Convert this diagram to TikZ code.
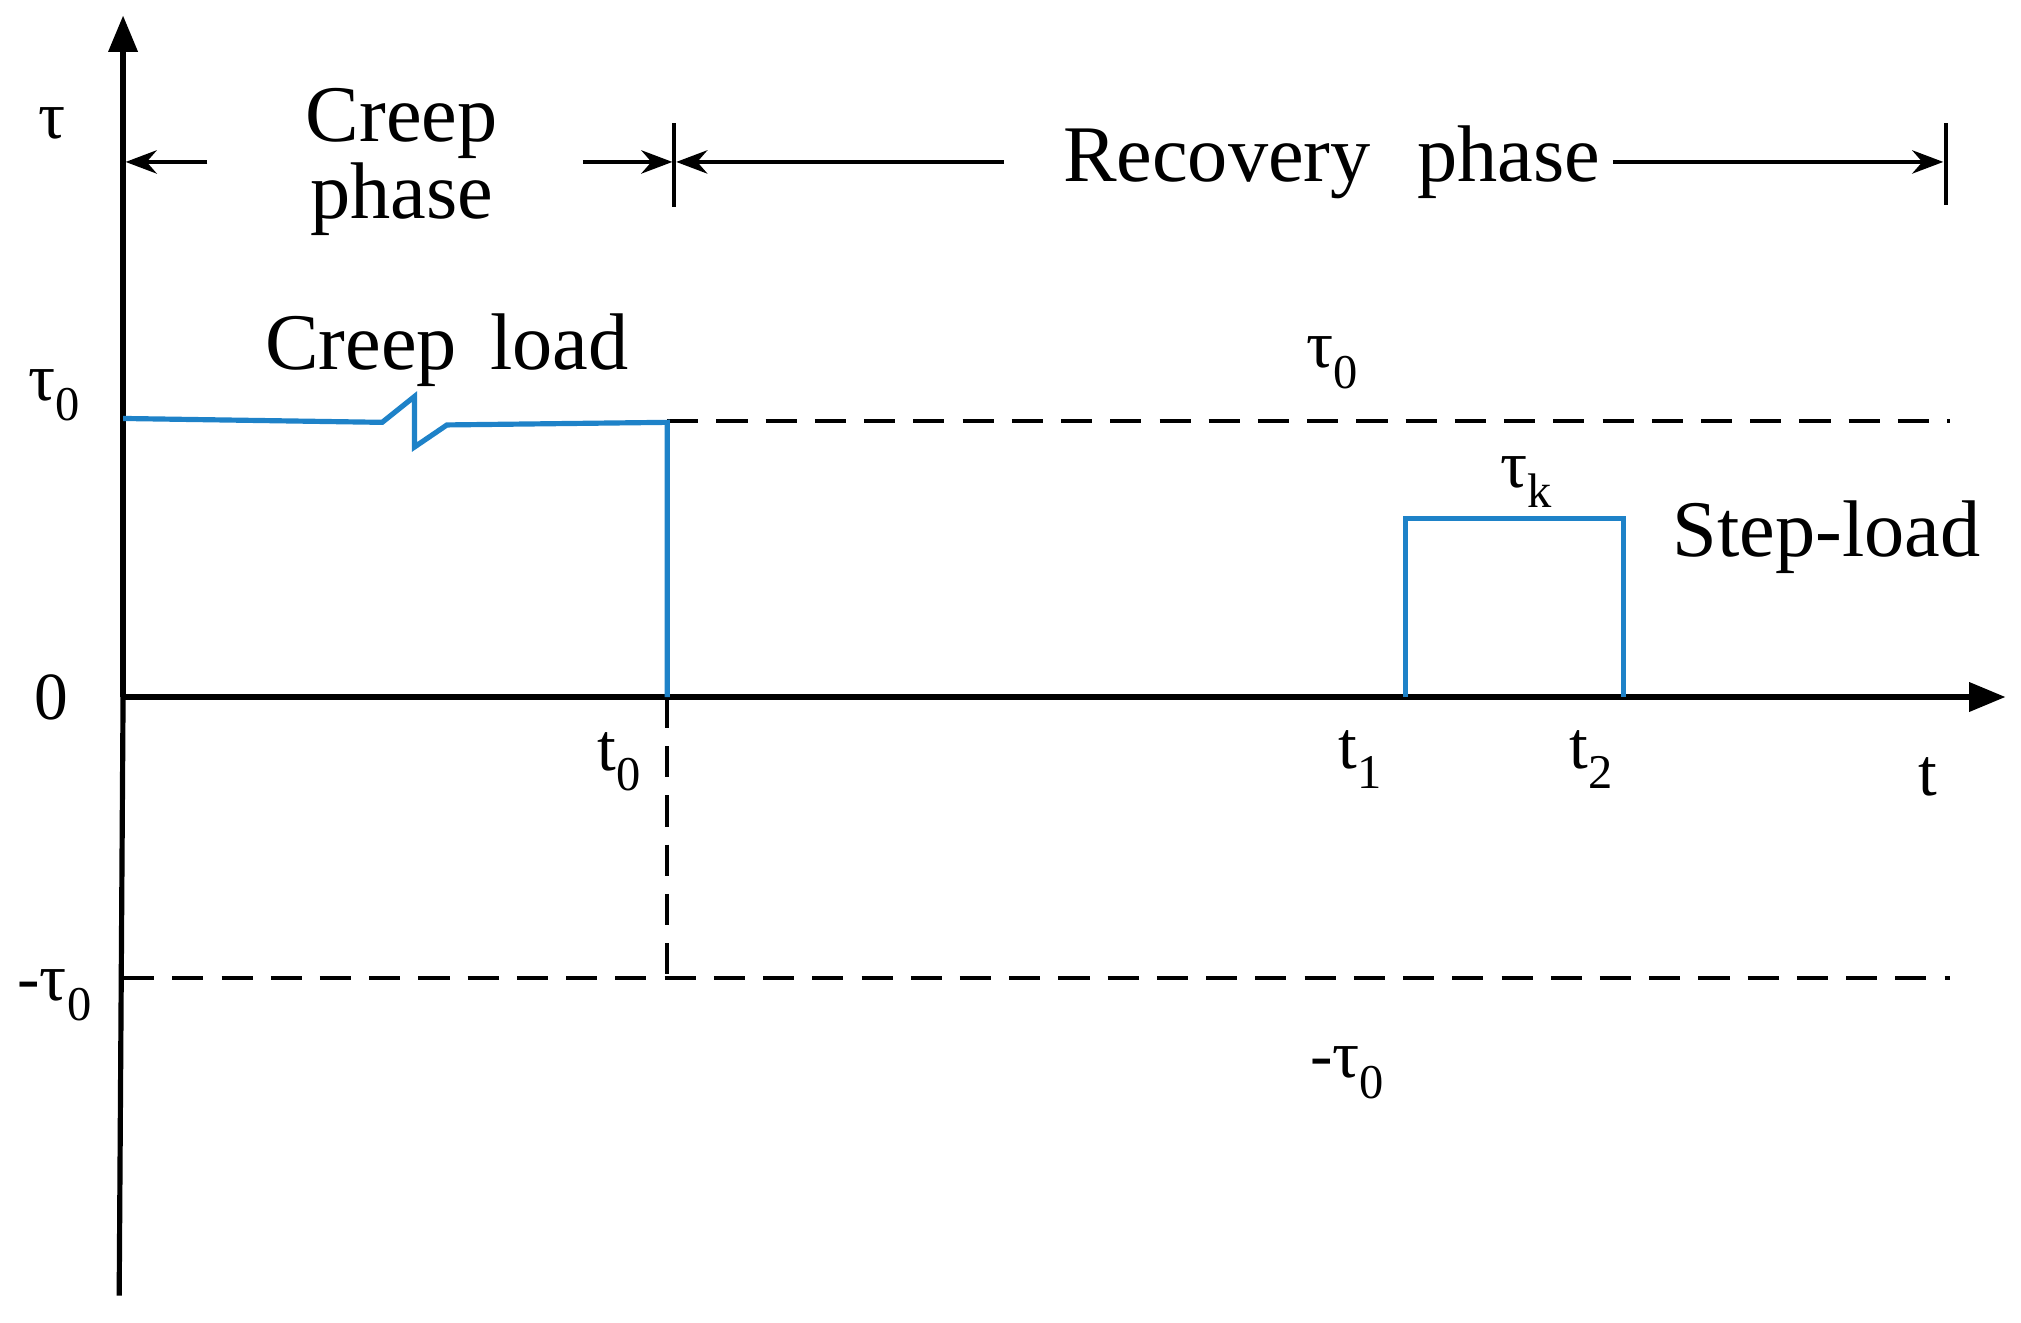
\documentclass[tikz,border=0pt]{standalone}
\usepackage{fontspec}
\setmainfont{Liberation Serif}
\usetikzlibrary{arrows.meta}
\newcommand{\mysub}[1]{\raisebox{-0.3em}{\scalebox{0.72}{#1}}}
\begin{document}
\begin{tikzpicture}[x=1pt,y=-1pt,
  ax/.style={line width=4pt,-{Triangle[length=28pt,width=22pt]}},
  blue/.style={draw={rgb,255:red,30;green,130;blue,200},line width=4pt},
  dsh/.style={line width=3pt,dash pattern=on 24pt off 14pt},
  ph/.style={line width=3pt,-{Stealth[length=24pt,width=18pt]}},
  lb/.style={font=\fontsize{62}{60}\selectfont,inner sep=0pt},
  sm/.style={font=\fontsize{52}{56}\selectfont,inner sep=0pt}]
\useasboundingbox (0,0) rectangle (1560,1021);
\coordinate (o) at (95,538);
\coordinate (ytop) at (95,12);
\coordinate (ybot) at (92,1000);
\coordinate (xend) at (1548,538);
\draw[line width=4pt] (ybot) -- (o);
\draw[ax] (o) -- (ytop);
\draw[ax] (o) -- (xend);
% dashed lines
\coordinate (d1) at (515,325); \coordinate (d2) at (1505,325);
\coordinate (d3) at (515,538); \coordinate (d4) at (515,755);
\coordinate (d5) at (95,755); \coordinate (d6) at (1505,755);
\draw[dsh] (d1) -- (d2);
\draw[dsh] (d3) -- (d4);
\draw[dsh] (d5) -- (d6);
% blue creep
\draw[blue] (95,323) -- (295,326) -- (320,306) -- (320,345) -- (345,328) -- (515,326) -- (515,538);
% step
\draw[blue] (1085,538) -- (1085,400) -- (1253,400) -- (1253,538);
% labels
\node[sm] (tau) at (40,95) {τ};
\node[sm] (tau0) at (42,305) {τ\mysub{0}};
\node[sm] (zero) at (40,538) {0};
\node[sm] (mtau0) at (42,768) {-τ\mysub{0}};
\node[sm] (tau0b) at (1028,280) {τ\mysub{0}};
\node[sm] (tauk) at (1178,372) {τ\mysub{k}};
\node[lb] (step) at (1410,415) {Step-load};
\node[sm] (t0) at (478,588) {t\mysub{0}};
\node[sm] (t1) at (1050,586) {t\mysub{1}};
\node[sm] (t2) at (1228,586) {t\mysub{2}};
\node[sm] (t) at (1488,600) {t};
\node[sm] (mtau0b) at (1040,828) {-τ\mysub{0}};
\node[lb] (cl) at (345,270) {Creep\, load};
\node[lb,align=center] (cp) at (310,125) {Creep\\phase};
\node[lb] (rp) at (1028,125) {Recovery\,\, phase};
% phase arrows
\coordinate (a1) at (160,125); \coordinate (a2) at (97,125);
\coordinate (a3) at (450,125); \coordinate (a4) at (519,125);
\coordinate (a5) at (775,125); \coordinate (a6) at (522,125);
\coordinate (a7) at (1245,125); \coordinate (a8) at (1500,125);
\draw[ph] (a1) -- (a2);
\draw[ph] (a3) -- (a4);
\draw[ph] (a5) -- (a6);
\draw[ph] (a7) -- (a8);
\coordinate (k1) at (520,95); \coordinate (k2) at (520,160);
\coordinate (k3) at (1502,95); \coordinate (k4) at (1502,158);
\draw[line width=3pt] (k1) -- (k2);
\draw[line width=3pt] (k3) -- (k4);
\end{tikzpicture}
\end{document}
